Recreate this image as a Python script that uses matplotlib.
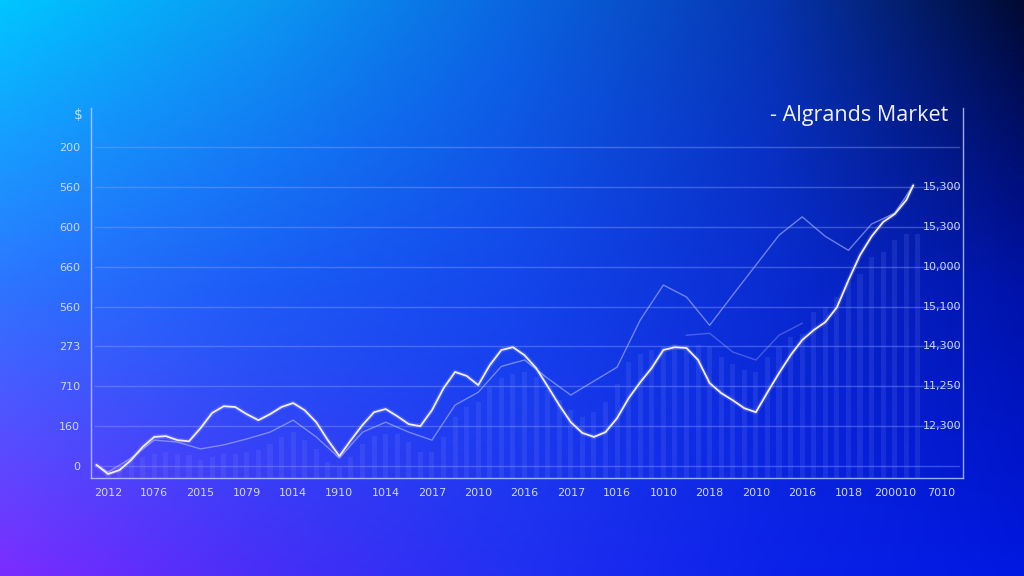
import numpy as np
import matplotlib.pyplot as plt
from matplotlib.colors import to_rgb

# values (y in grid steps, 0..8)
xLabels = ['2012', '1076', '2015', '1079', '1014', '1910', '1014', '2017', '2010', '2016',
           '2017', '1016', '1010', '2018', '2010', '2016', '1018', '200010', '7010']
leftLabels = ['0', '160', '710', '273', '560', '660', '600', '560', '200']
rightLabels = ['12,300', '11,250', '14,300', '15,100', '10,000', '15,300', '15,300']
title = '- Algrands Market'

# main (bright) line, read every quarter step
mainX = [-0.25, 0, 0.25, 0.5, 0.75, 1, 1.25, 1.5, 1.75, 2, 2.25, 2.5, 2.75, 3, 3.25, 3.5,
         3.75, 4, 4.25, 4.5, 4.75, 5, 5.25, 5.5, 5.75, 6, 6.25, 6.5, 6.75, 7, 7.25, 7.5,
         7.75, 8, 8.25, 8.5, 8.75, 9, 9.25, 9.5, 9.75, 10, 10.25, 10.5, 10.75, 11, 11.25,
         11.5, 11.75, 12, 12.25, 12.5, 12.75, 13, 13.25, 13.5, 13.75, 14, 14.25, 14.5,
         14.75, 15, 15.25, 15.5, 15.75, 16, 16.25, 16.5, 16.75, 17, 17.25, 17.4]
mainY = [0.03, -0.20, -0.10, 0.15, 0.48, 0.73, 0.75, 0.65, 0.62, 0.95, 1.33, 1.50, 1.48,
         1.30, 1.15, 1.30, 1.48, 1.58, 1.40, 1.10, 0.65, 0.25, 0.65, 1.03, 1.35, 1.43, 1.25,
         1.05, 1.00, 1.40, 1.95, 2.36, 2.26, 2.03, 2.53, 2.91, 2.98, 2.78, 2.46, 2.00, 1.53,
         1.10, 0.83, 0.73, 0.85, 1.20, 1.70, 2.10, 2.46, 2.91, 2.98, 2.96, 2.66, 2.08, 1.83,
         1.65, 1.45, 1.35, 1.85, 2.33, 2.78, 3.16, 3.41, 3.61, 3.98, 4.66, 5.29, 5.76, 6.12,
         6.32, 6.67, 7.04]

# faint line, read every half step
faintX = [-0.25, 0, 0.5, 1, 1.5, 2, 2.5, 3, 3.5, 4, 4.5, 5, 5.5, 6, 6.5, 7, 7.5, 8, 8.5,
          9, 9.5, 10, 10.5, 11, 11.5, 12, 12.5, 13, 13.5, 14, 14.5, 15, 15.5, 16, 16.5, 17, 17.4]
faintY = [0.03, -0.15, 0.20, 0.65, 0.60, 0.43, 0.53, 0.68, 0.85, 1.15, 0.73, 0.20, 0.85,
          1.10, 0.85, 0.65, 1.53, 1.85, 2.50, 2.66, 2.20, 1.78, 2.13, 2.48, 3.66, 4.54, 4.24,
          3.53, 4.29, 5.04, 5.79, 6.25, 5.76, 5.41, 6.07, 6.34, 7.04]
thirdX = [12.5, 13, 13.5, 14, 14.5, 15]
thirdY = [3.28, 3.33, 2.86, 2.66, 3.28, 3.58]

barX = np.arange(0, 17.51, 0.25)
barY = [0.15, 0.28, 0.40, 0.53, 0.60, 0.65, 0.60, 0.58, 0.45, 0.53, 0.60, 0.60, 0.65, 0.70,
        0.85, 1.03, 1.15, 0.95, 0.73, 0.40, 0.28, 0.53, 0.85, 1.05, 1.10, 1.10, 0.90, 0.65,
        0.65, 1.03, 1.53, 1.78, 1.90, 2.28, 2.51, 2.61, 2.66, 2.53, 2.21, 1.95, 1.70, 1.53,
        1.65, 1.90, 2.36, 2.91, 3.11, 3.21, 3.28, 3.36, 3.33, 3.33, 3.28, 3.03, 2.86, 2.71,
        2.66, 3.03, 3.28, 3.53, 3.61, 4.16, 4.29, 4.54, 4.91, 5.11, 5.54, 5.66, 5.96, 6.12, 6.12]

# background colours (rows top->bottom, columns left->right)
bgTop = ['#00c6ff', '#0a9af2', '#0a66e0', '#0636b2', '#000a32']
bgMid = ['#2e74ff', '#1c5cf6', '#1446ec', '#0a2cd2', '#0012a8']
bgBot = ['#7c2cff', '#4a2ef8', '#2230f2', '#0c22ea', '#0018e2']

grid = np.array([[to_rgb(c) for c in row] for row in (bgTop, bgMid, bgBot)])
H, W = 288, 512
xs = np.linspace(0, grid.shape[1] - 1, W)
ys = np.linspace(0, grid.shape[0] - 1, H)
rows = np.stack([np.stack([np.interp(xs, np.arange(grid.shape[1]), grid[r, :, ch])
                           for ch in range(3)], axis=-1) for r in range(grid.shape[0])])
bg = np.stack([np.stack([np.interp(ys, np.arange(grid.shape[0]), rows[:, c, ch])
                         for ch in range(3)], axis=-1) for c in range(W)], axis=1)

fig = plt.figure(figsize=(10.24, 5.76), dpi=100)
bgAx = fig.add_axes([0, 0, 1, 1])
bgAx.imshow(bg, aspect='auto', interpolation='bilinear', extent=(0, 1, 0, 1))
bgAx.axis('off')

ax = fig.add_axes([91 / 1024, 1 - 478 / 576, 872 / 1024, 370 / 576])
ax.set_facecolor('none')
ax.set_xlim(-0.367, 18.475)
ax.set_ylim(-0.3, 8.98)

lineCol = '#c8d0ff'
txtCol = '#d0d8ff'

for y in range(9):
    ax.axhline(y, xmin=0.005, xmax=0.995, color='#8ea4ff', alpha=0.4, lw=1, zorder=1)

ax.bar(barX, barY, width=0.11, bottom=-0.3, color='#8090ff', alpha=0.15, zorder=2)
ax.plot(faintX, faintY, color='#b0baff', alpha=0.6, lw=1.0, zorder=3)
ax.plot(thirdX, thirdY, color='#b0baff', alpha=0.35, lw=1.0, zorder=3)
ax.plot(mainX, mainY, color='#ffffff', alpha=0.12, lw=3.5, zorder=4, solid_capstyle='round')
ax.plot(mainX, mainY, color='#f4eeff', lw=1.3, zorder=5, solid_capstyle='round')

ax.set_xticks(range(len(xLabels)))
ax.set_xticklabels(xLabels)
ax.set_yticks(range(len(leftLabels)))
ax.set_yticklabels(leftLabels)
ax.tick_params(axis='both', length=0, labelsize=8, labelcolor=txtCol)
ax.tick_params(axis='x', pad=7)
ax.tick_params(axis='y', pad=8)

for i, lab in enumerate(rightLabels):
    ax.text(17.6, i + 1, lab, color=txtCol, fontsize=8, va='center', ha='left')

ax.text(-0.55, 8.8, '$', color=txtCol, fontsize=10, ha='right', va='center')
ax.text(18.15, 8.78, title, color='#f2f2ff', fontsize=15.5, ha='right', va='center',
        family=['Open Sans', 'DejaVu Sans'])

ax.spines['top'].set_visible(False)
for side in ['left', 'bottom', 'right']:
    ax.spines[side].set_color(lineCol)
    ax.spines[side].set_alpha(0.8)
    ax.spines[side].set_linewidth(1)

fig.savefig('out.png', dpi=100)
